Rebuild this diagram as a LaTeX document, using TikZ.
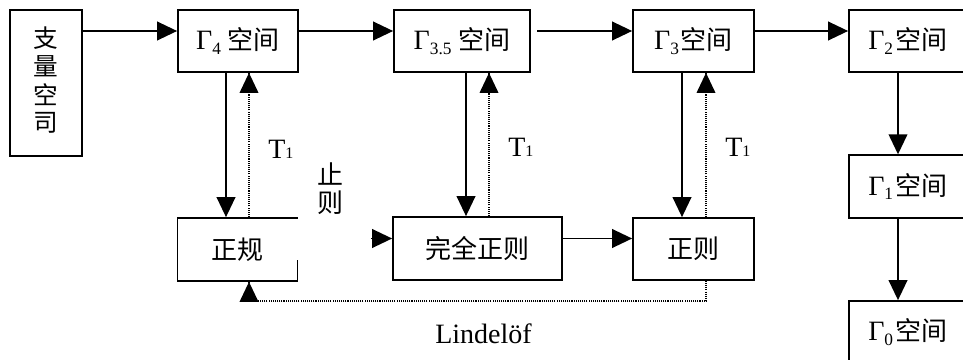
\documentclass[tikz,border=0pt]{standalone}
\usepackage{fontspec}
\setmainfont{Liberation Serif}
\newfontfamily\cjk{Noto Sans CJK SC}
\usetikzlibrary{arrows.meta}
% small lowered index after a Gamma
\newcommand\gidx[1]{\raisebox{-3.5pt}{\fontsize{13}{14}\selectfont #1}}
\newcommand\kj[1]{{\cjk\fontsize{19.5}{22}\selectfont #1}}
\newcommand\gsp[2]{{\fontsize{21}{24}\selectfont Γ}\gidx{#1}\hspace{#2}\kj{空间}}
\begin{document}
\begin{tikzpicture}[x=0.75pt,y=-0.75pt,
  box/.style={draw,line width=1.3pt,inner sep=0pt,fill=white,
    font=\fontsize{21}{24}\selectfont},
  arr/.style={line width=1.3pt,-{Triangle[length=15pt,width=14pt]}},
  dot/.style={line width=1pt,dash pattern=on 0.8pt off 0.8pt},
  lbl/.style={inner sep=0pt,anchor=base west,font=\fontsize{21}{24}\selectfont}]
\clip (0,0) rectangle (963,360);
\useasboundingbox (0,0) rectangle (963,360);

% top row
\node[box,minimum width=54pt,minimum height=109.5pt,
  font=\cjk\fontsize{18.5}{19.5}\selectfont] (A) at (46,83)
  {\raisebox{4pt}{\begin{tabular}{@{}c@{}}支\\量\\空\\司\end{tabular}}};
\node[box,minimum width=90pt,minimum height=46.5pt] (G4) at (238,41) {\gsp{4}{5pt}};
\node[box,minimum width=102pt,minimum height=46.5pt] (G35) at (462,41) {\gsp{3.5}{5pt}};
\node[box,minimum width=90.75pt,minimum height=46.5pt] (G3) at (693.5,41) {\gsp{3}{1.5pt}};
\node[box,minimum width=88.5pt,minimum height=46.5pt] (G2) at (908,41) {\gsp{2}{2pt}};
% right column
\node[box,minimum width=88.5pt,minimum height=47pt] (G1) at (908,186.5) {\gsp{1}{2pt}};
\node[box,minimum width=88.5pt,minimum height=46.5pt] (G0) at (908,332) {\gsp{0}{2pt}};
% bottom row
\node[box,minimum width=90pt,minimum height=47.25pt] (ZG) at (237.5,249.5) {\kj{正规}};
\node[box,minimum width=126.75pt,minimum height=47.25pt] (WQ) at (477.5,248.5) {\kj{完全正则}};
\node[box,minimum width=90.75pt,minimum height=46.5pt] (ZZ) at (693.5,249) {\kj{正则}};

% reference columns and rows for the connectors
\coordinate (r31) at (0,31);
\coordinate (r238) at (0,238.5);
\coordinate (r301) at (0,301);
\coordinate (x226) at (226,0);
\coordinate (x249) at (249,0);
\coordinate (x466) at (466,0);
\coordinate (x489) at (489,0);
\coordinate (x682) at (682,0);
\coordinate (x706) at (706,0);
\coordinate (x898) at (898,0);
\coordinate (s537) at (537,31);

% horizontal chain
\draw[arr] (A.east |- r31) -- (G4.west |- r31);
\draw[arr] (G4.east |- r31) -- (G35.west |- r31);
\draw[arr] (s537) -- (G3.west |- r31);
\draw[arr] (G3.east |- r31) -- (G2.west |- r31);
\draw[arr] (G2.south -| x898) -- (G1.north -| x898);
\draw[arr] (G1.south -| x898) -- (G0.north -| x898);

% downward implications
\draw[arr] (G4.south -| x226) -- (ZG.north -| x226);
\draw[arr] (G35.south -| x466) -- (WQ.north -| x466);
\draw[arr] (G3.south -| x682) -- (ZZ.north -| x682);

% T1 back-implications
\draw[dot] (ZG.north -| x249) -- (G4.south -| x249);
\draw[arr,line width=1pt] ([yshift=-2pt]G4.south -| x249) -- (G4.south -| x249);
\draw[dot] (WQ.north -| x489) -- (G35.south -| x489);
\draw[arr,line width=1pt] ([yshift=-2pt]G35.south -| x489) -- (G35.south -| x489);
\draw[dot] (ZZ.north -| x706) -- (G3.south -| x706);
\draw[arr,line width=1pt] ([yshift=-2pt]G3.south -| x706) -- (G3.south -| x706);

% bottom row chain
\draw[arr] (ZG.east |- r238) -- (WQ.west |- r238);
\draw[arr] (WQ.east |- r238) -- (ZZ.west |- r238);

% Lindeloef loop back
\draw[dot] (ZZ.south -| x706) -- (x706 |- r301) -- (x249 |- r301) -- (ZG.south -| x249);
\draw[arr,line width=1pt] ([yshift=-2pt]ZG.south -| x249) -- (ZG.south -| x249);

% white patch over the right side of the first bottom box
\fill[white] (296.6,219.2) rectangle (370.5,260);

% labels
\node[lbl] (t1a) at (268,158) {T{\fontsize{12}{14}\selectfont 1}};
\node[lbl] (t1b) at (508,156) {T{\fontsize{12}{14}\selectfont 1}};
\node[lbl] (t1c) at (725,156) {T{\fontsize{12}{14}\selectfont 1}};
\node[inner sep=0pt,align=center,font=\cjk\fontsize{19.5}{22}\selectfont] (zz) at (330,189)
  {止\\[-1pt]则};
\node[lbl] (lin) at (435,343) {Lindelöf};
\end{tikzpicture}
\end{document}
